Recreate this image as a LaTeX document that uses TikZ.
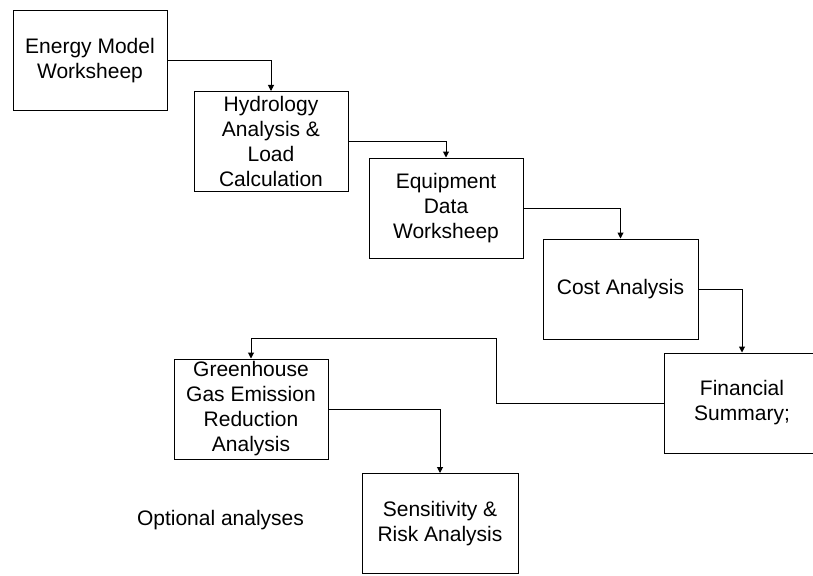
\documentclass[tikz,border=0pt]{standalone}
\usepackage{fontspec}
\setmainfont{Liberation Sans}
\usetikzlibrary{arrows.meta}
\begin{document}
\begin{tikzpicture}[x=1pt,y=-1pt,
 box/.style={draw=black,line width=1pt,minimum width=154pt,minimum height=100pt,inner sep=0pt,align=center,font=\fontsize{21}{25}\selectfont},
 conn/.style={draw=black,line width=1pt,-{Triangle[length=6pt,width=6pt]}},
 lbl/.style={inner sep=0pt,font=\fontsize{21}{25}\selectfont}]
\useasboundingbox (0,0) rectangle (813,575);
\clip (0,0) rectangle (813,575);
\node[box] (b1) at (90,61) {Energy Model\\Worksheep};
\node[box] (b2) at (271,141.5) {Hydrology\\Analysis \&\\Load\\Calculation};
\node[box] (b3) at (446,208) {Equipment\\Data\\Worksheep};
\node[box,minimum width=155pt] (b4) at (620.5,289) {Cost Analysis};
\node[box,minimum width=156pt] (b5) at (742,403) {Financial\\Summary;};
\node[box] (b6) at (251,409) {Greenhouse\\Gas Emission\\Reduction\\Analysis};
\node[box,minimum width=156pt] (b7) at (440,523.5) {Sensitivity \&\\Risk Analysis};
\node[lbl] (opt) at (220.5,520) {Optional analyses};
\coordinate (t1) at (496,338);
\draw[conn] (b1.east) -| (b2.north);
\draw[conn] (b2.east) -| (b3.north);
\draw[conn] (b3.east) -| (b4.north);
\draw[conn] (b4.east) -| (b5.north);
\draw[conn] (b5.west) -| (t1) -| (b6.north);
\draw[conn] (b6.east) -| (b7.north);
\end{tikzpicture}
\end{document}
